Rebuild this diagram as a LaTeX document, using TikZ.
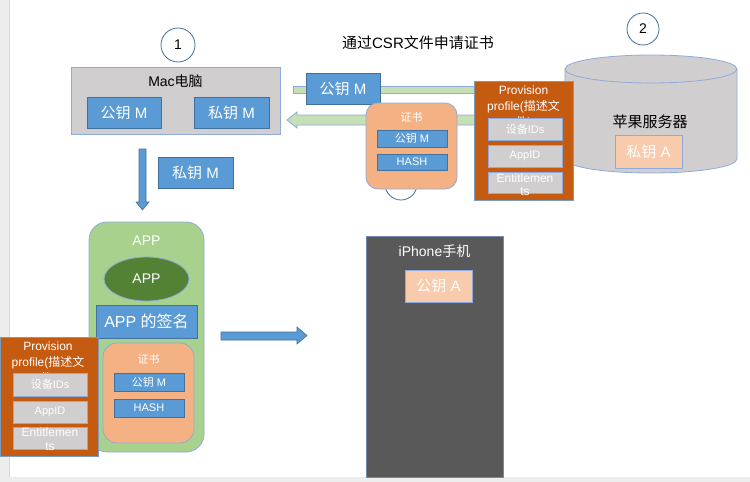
\documentclass[tikz,border=0pt]{standalone}
\usepackage{fontspec}
\setmainfont{Liberation Sans}
\newfontfamily\cjk{Noto Sans CJK SC}
\usetikzlibrary{shapes.geometric}
\definecolor{pagegray}{HTML}{EDEDED}
\definecolor{edgegray}{HTML}{D6D6D6}
\definecolor{bluefill}{HTML}{5B9BD5}
\definecolor{blueline}{HTML}{41719C}
\definecolor{lightline}{HTML}{8FAADC}
\definecolor{macgray}{HTML}{D0CECE}
\definecolor{arrowgreen}{HTML}{C5E0B4}
\definecolor{certorange}{HTML}{F4B183}
\definecolor{provorange}{HTML}{C55A11}
\definecolor{peach}{HTML}{F8CBAD}
\definecolor{appgreen}{HTML}{A9D18E}
\definecolor{darkgreen}{HTML}{548235}
\definecolor{phonegray}{HTML}{595959}
\tikzset{
  fs/.style={font=\fontsize{#1}{18}\selectfont},
  bluebox/.style={draw=blueline, fill=bluefill, text=white, inner sep=0pt, line width=0.8pt},
  graybox/.style={draw=lightline, fill=macgray, text=white, inner sep=0pt, line width=0.8pt},
  certbox/.style={draw=lightline, fill=certorange, inner sep=0pt, line width=0.8pt, rounded corners=12pt},
  provbox/.style={draw=blueline!70, fill=provorange, inner sep=0pt, line width=0.8pt},
  peachbox/.style={draw=lightline, fill=peach, text=white, inner sep=0pt, line width=0.8pt},
  numcircle/.style={circle, draw=blueline, line width=0.8pt, fill=white, inner sep=0pt, minimum size=#1},
  greenarrow/.style={draw=lightline, fill=arrowgreen, line width=0.8pt},
  bluearrow/.style={draw=blueline, fill=bluefill, line width=0.6pt},
  wtext/.style={text=white, inner sep=0pt},
}
\begin{document}
\begin{tikzpicture}[x=1pt,y=-1pt]
\useasboundingbox (0,0) rectangle (750,482);
\fill[pagegray] (0,0) rectangle (750,482);
\fill[white] (9,0) rectangle (750,477);
\draw[edgegray, line width=0.8pt] (9,0) -- (9,477);

% ---------- Mac
\node[numcircle=34pt, fs=14] (c1) at (178,45) {1};
\node[draw=lightline, fill=macgray, line width=0.8pt, minimum width=209pt, minimum height=67pt, inner sep=0pt] (mac) at (175.5,100.5) {};
\node[fs=14, inner sep=0pt] (maclbl) at (175.5,81) {Mac{\cjk 电脑}};
\node[bluebox, fs=15, minimum width=74pt, minimum height=31pt] (macpub) at (124,112.5) {{\cjk 公钥} M};
\node[bluebox, fs=15, minimum width=75pt, minimum height=31pt] (macpriv) at (231.5,112.5) {{\cjk 私钥} M};

% down arrow
\coordinate (dA) at (142.5,149);
\coordinate (dB) at (142.5,210);
\draw[bluearrow] (139,149) -- (146,149) -- (146,202) -- (149,202) -- (dB) -- (136,202) -- (139,202) -- cycle;
\node[bluebox, fs=15, minimum width=75pt, minimum height=31pt] (privlbl) at (195.5,172.5) {{\cjk 私钥} M};

% ---------- title
\node[fs=15, inner sep=0pt] (title) at (418,43) {{\cjk 通过}CSR{\cjk 文件申请证书}};

% ---------- server
\node[numcircle=32pt, fs=14] (c2) at (643,29) {2};
\coordinate (srv) at (651,69);
\draw[draw=lightline, fill=macgray, line width=0.8pt]
  (565,69) -- (565,159) arc[start angle=180, end angle=360, x radius=86pt, y radius=14pt] -- (737,69);
\draw[draw=lightline, fill=macgray, line width=0.8pt] (srv) ellipse[x radius=86pt, y radius=14pt];
\node[fs=15, inner sep=0pt] (srvlbl) at (650,122) {{\cjk 苹果服务器}};
\node[peachbox, fs=15, minimum width=67pt, minimum height=33pt] (srvpriv) at (648.5,151.5) {{\cjk 私钥} A};

% ---------- green arrows
\draw[greenarrow] (293,86) -- (530,86) -- (530,93) -- (293,93) -- cycle;
\draw[greenarrow] (530,115) -- (297,115) -- (297,112) -- (287,120) -- (297,128) -- (297,125) -- (530,125) -- cycle;
\node[bluebox, fs=15, minimum width=74pt, minimum height=31pt] (csrpub) at (343,88.5) {{\cjk 公钥} M};

% certificate (top)
\node[numcircle=32pt] (c3) at (401,184) {};
\node[certbox, minimum width=91pt, minimum height=86pt] (cert1) at (411.5,146) {};
\node[wtext, fs=11] (cert1lbl) at (411.5,117) {{\cjk 证书}};
\node[bluebox, fs=11, minimum width=70pt, minimum height=17pt] (cert1pub) at (412,138.5) {{\cjk 公钥} M};
\node[bluebox, fs=11, minimum width=70pt, minimum height=16pt] (cert1hash) at (412,162) {HASH};

% provision profile (top)
\node[provbox, minimum width=99pt, minimum height=119pt] (prov1) at (523.5,140.5) {};
\node[wtext, align=center, anchor=north, font=\fontsize{12}{16}\selectfont] (prov1lbl) at (523.5,86) {Provision\\profile({\cjk 描述文}\\{\cjk 件})};
\node[graybox, fs=11, minimum width=74pt, minimum height=22pt] (prov1dev) at (525,129) {{\cjk 设备}IDs};
\node[graybox, fs=11, minimum width=74pt, minimum height=22pt] (prov1app) at (525,156) {AppID};
\node[graybox, minimum width=74pt, minimum height=21pt] (prov1ent) at (525,182.5) {};
\node[wtext, align=center, font=\fontsize{12}{13}\selectfont] (prov1entlbl) at (525,184.5) {Entitlemen\\ts};

% ---------- APP
\node[draw=lightline, fill=appgreen, line width=0.8pt, rounded corners=18pt, minimum width=115pt, minimum height=230pt, inner sep=0pt] (app) at (146.5,337) {};
\node[wtext, fs=14] (applbl) at (146.5,241) {APP};
\node[ellipse, draw=lightline, fill=darkgreen, line width=0.8pt, text=white, fs=14, minimum width=85pt, minimum height=44pt, inner sep=0pt] (appcore) at (146.5,279) {APP};
\node[bluebox, fs=16, minimum width=101pt, minimum height=33pt] (appsig) at (146.5,321.5) {APP {\cjk 的签名}};
\node[certbox, rounded corners=14pt, minimum width=91pt, minimum height=100pt] (cert2) at (148.5,393) {};
\node[wtext, fs=11] (cert2lbl) at (148.5,359) {{\cjk 证书}};
\node[bluebox, fs=11, minimum width=70pt, minimum height=18pt] (cert2pub) at (149,382) {{\cjk 公钥} M};
\node[bluebox, fs=11, minimum width=70pt, minimum height=18pt] (cert2hash) at (149,408) {HASH};

% provision profile (bottom)
\node[provbox, minimum width=98pt, minimum height=119pt] (prov2) at (49,396.5) {};
\node[wtext, align=center, anchor=north, font=\fontsize{12}{16}\selectfont] (prov2lbl) at (48,342) {Provision\\profile({\cjk 描述文}\\{\cjk 件})};
\node[graybox, fs=11, minimum width=74pt, minimum height=23pt] (prov2dev) at (50,384.5) {{\cjk 设备}IDs};
\node[graybox, fs=11, minimum width=74pt, minimum height=22pt] (prov2app) at (50,412) {AppID};
\node[graybox, minimum width=74pt, minimum height=22pt] (prov2ent) at (50,438) {};
\node[wtext, align=center, font=\fontsize{12}{14}\selectfont] (prov2entlbl) at (50,439.5) {Entitlemen\\ts};

% right arrow
\draw[bluearrow] (221,332) -- (297,332) -- (297,327) -- (307,335.5) -- (297,344) -- (297,340) -- (221,340) -- cycle;

% ---------- iPhone
\node[draw=lightline!80!black, fill=phonegray, line width=0.8pt, minimum width=137pt, minimum height=241pt, inner sep=0pt] (phone) at (434.5,356.5) {};
\node[wtext, fs=14] (phonelbl) at (434.5,251) {iPhone{\cjk 手机}};
\node[peachbox, fs=15, minimum width=67pt, minimum height=32pt] (phonepub) at (438.5,286) {{\cjk 公钥} A};
\end{tikzpicture}
\end{document}
